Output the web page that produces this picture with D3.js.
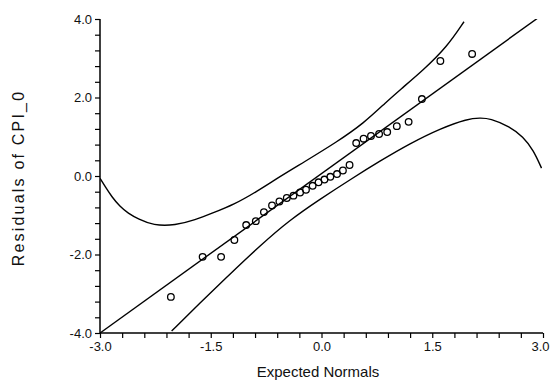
<!DOCTYPE html>
<html>
<head>
<meta charset="utf-8">
<script src="https://cdn.jsdelivr.net/npm/d3@7"></script>
<style>
  html, body { margin: 0; padding: 0; background: #fff; }
  svg { display: block; font-family: "Liberation Sans", Arial, sans-serif; }
</style>
</head>
<body>
<svg id="chart" width="550" height="382"></svg>
<script>
// Normal probability plot of residuals: expected normal scores vs. residuals
const expectedNormals = [-2.04, -1.61, -1.36, -1.18, -1.02, -0.89, -0.78, -0.67, -0.57, -0.47,
                         -0.38, -0.29, -0.21, -0.12, -0.04, 0.04, 0.12, 0.21, 0.29, 0.38,
                         0.47, 0.57, 0.67, 0.78, 0.89, 1.02, 1.18, 1.36, 1.61, 2.04];
const residuals = [-3.08, -2.06, -2.06, -1.63, -1.25, -1.15, -0.92, -0.75, -0.65, -0.56,
                   -0.50, -0.42, -0.35, -0.25, -0.16, -0.09, -0.02, 0.05, 0.14, 0.28,
                   0.84, 0.95, 1.02, 1.07, 1.12, 1.27, 1.38, 1.96, 2.93, 3.11];

// Fitted line endpoints (x, y)
const fitX = [-3.0, 3.0];
const fitY = [-4.0, 4.12];

// Upper confidence band
const upperX = [-3.00, -2.93, -2.84, -2.73, -2.62, -2.48, -2.28, -1.98, -1.71, -1.47,
                -1.19, -0.88, -0.56, -0.25, 0.21, 0.57, 0.88, 1.06, 1.38, 1.70, 1.93];
const upperY = [-0.06, -0.27, -0.53, -0.78, -0.95, -1.10, -1.26, -1.26, -1.12, -0.94,
                -0.73, -0.40, -0.01, 0.34, 0.87, 1.34, 1.89, 2.19, 2.70, 3.29, 3.93];

// Lower confidence band
const lowerX = [-2.03, -1.65, -1.24, -0.83, -0.43, -0.02, 0.39, 0.79, 1.20, 1.61,
                1.98, 2.15, 2.28, 2.55, 2.73, 2.87, 2.98];
const lowerY = [-3.95, -3.24, -2.50, -1.77, -1.12, -0.59, -0.09, 0.38, 0.83, 1.21,
                1.46, 1.48, 1.47, 1.26, 1.00, 0.66, 0.20];

// Axis ticks
const xTicks = [-3.0, -2.7, -2.4, -2.1, -1.8, -1.5, -1.2, -0.9, -0.6, -0.3, 0.0,
                0.3, 0.6, 0.9, 1.2, 1.5, 1.8, 2.1, 2.4, 2.7, 3.0];
const xTickLabels = ["-3.0", "-1.5", "0.0", "1.5", "3.0"];
const yTicks = [-4.0, -3.6, -3.2, -2.8, -2.4, -2.0, -1.6, -1.2, -0.8, -0.4, 0.0,
                0.4, 0.8, 1.2, 1.6, 2.0, 2.4, 2.8, 3.2, 3.6, 4.0];
const yTickLabels = ["-4.0", "-2.0", "0.0", "2.0", "4.0"];

const xTitle = "Expected Normals";
const yTitle = "Residuals of CPI_0";

const margin = { top: 19, right: 7, bottom: 49, left: 100 };
const width = 550, height = 382;

const svg = d3.select("#chart");
const x = d3.scaleLinear().domain([-3, 3]).range([margin.left, width - margin.right]);
const y = d3.scaleLinear().domain([-4, 4]).range([height - margin.bottom, margin.top]);

svg.append("defs").append("clipPath").attr("id", "plot-clip")
  .append("rect")
  .attr("x", x(-3)).attr("y", y(4))
  .attr("width", x(3) - x(-3)).attr("height", y(-4) - y(4));

const plot = svg.append("g").attr("clip-path", "url(#plot-clip)");

const bandLine = d3.line().x(d => x(d[0])).y(d => y(d[1])).curve(d3.curveBasis);
const straight = d3.line().x(d => x(d[0])).y(d => y(d[1]));

const lineStyle = sel => sel.attr("fill", "none").attr("stroke", "#000").attr("stroke-width", 1.4);

plot.append("path").datum(d3.zip(upperX, upperY)).attr("d", bandLine).call(lineStyle);
plot.append("path").datum(d3.zip(lowerX, lowerY)).attr("d", bandLine).call(lineStyle);
plot.append("path").datum(d3.zip(fitX, fitY)).attr("d", straight).call(lineStyle);

plot.selectAll("circle.pt")
  .data(d3.zip(expectedNormals, residuals))
  .join("circle")
  .attr("class", "pt")
  .attr("cx", d => x(d[0]))
  .attr("cy", d => y(d[1]))
  .attr("r", 3.3)
  .attr("fill", "none")
  .attr("stroke", "#000")
  .attr("stroke-width", 1.3);

// Axes: labelled ticks show one decimal with a plain hyphen for negatives
const fmt = d => { const s = (Math.round(d * 10) / 10).toFixed(1); return s === "-0.0" ? "0.0" : s; };

const xAxis = d3.axisBottom(x).tickValues(xTicks).tickSize(5).tickPadding(4)
  .tickFormat(d => xTickLabels.includes(fmt(d)) ? fmt(d) : "");
const yAxis = d3.axisLeft(y).tickValues(yTicks).tickSize(5).tickPadding(3)
  .tickFormat(d => yTickLabels.includes(fmt(d)) ? fmt(d) : "");

const gx = svg.append("g").attr("transform", `translate(0,${y(-4)})`).call(xAxis);
const gy = svg.append("g").attr("transform", `translate(${x(-3)},0)`).call(yAxis);

[gx, gy].forEach(g => {
  g.select(".domain").attr("stroke", "#000").attr("stroke-width", 1.5);
  g.selectAll(".tick line").attr("stroke", "#000").attr("stroke-width", 1.2);
  g.selectAll(".tick text").attr("fill", "#111").style("font-size", "13px")
    .style("font-family", "'Liberation Sans', Arial, sans-serif");
});
gx.select(".domain").attr("d", `M${x(-3)},0H${x(3)}`);
gy.select(".domain").attr("d", `M0,${y(-4)}V${y(4)}`);

// keep the last x label inside the page edge
gx.selectAll(".tick text").filter(d => Math.abs(d - 3) < 1e-9)
  .attr("text-anchor", "end").attr("x", width - 1 - x(3));

svg.append("text")
  .attr("x", 318).attr("y", 377)
  .attr("text-anchor", "middle")
  .style("font-size", "15px")
  .attr("fill", "#111")
  .text(xTitle);

svg.append("text")
  .attr("transform", `translate(24,178) rotate(-90)`)
  .attr("text-anchor", "middle")
  .style("font-size", "16px")
  .style("letter-spacing", "2.2px")
  .attr("fill", "#111")
  .text(yTitle);
</script>
</body>
</html>
